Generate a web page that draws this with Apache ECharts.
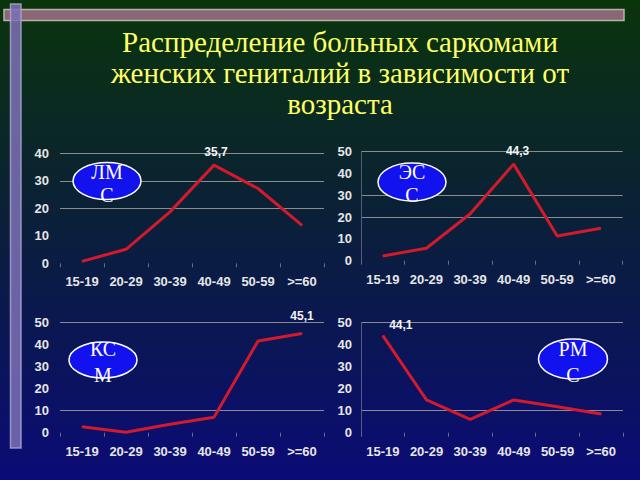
<!DOCTYPE html>
<html><head><meta charset="utf-8">
<script src="https://cdn.jsdelivr.net/npm/echarts@6/dist/echarts.min.js"></script>
<style>html,body{margin:0;padding:0;background:#0a1f3a}#c{width:640px;height:480px}</style>
</head><body><div id="c"></div>
<script>
const categories = ['15-19','20-29','30-39','40-49','50-59','>=60'];
const lmsValues = [0.7, 5.1, 18.7, 35.7, 27.2, 13.8];
const essValues = [2.2, 5.7, 21.4, 44.3, 11.3, 14.9];
const ksmValues = [2.7, 0.2, 3.8, 7.0, 41.7, 45.1];
const rmsValues = [44.1, 14.9, 6.1, 14.9, 11.8, 8.5];
const panelNames = [['ЛМ','С'], ['ЭС','С'], ['КС','М'], ['РМ','С']];
const axisMax = [40, 50, 50, 50];
const labelIndex = [3, 3, 5, 0];
const titleLines = ['Распределение больных саркомами', 'женских гениталий в зависимости от', 'возраста'];

const seriesValues = [lmsValues, essValues, ksmValues, rmsValues];
const grids = [
  {left: 60, top: 153.3, width: 264, height: 110},
  {left: 361, top: 151.7, width: 261.6, height: 109},
  {left: 60, top: 322.7, width: 264, height: 110},
  {left: 361, top: 322.7, width: 262, height: 110}
];
const gridColors = [
  ['transparent','transparent','#8c8c8c','#8c8c8c','#8c8c8c'],
  ['transparent','transparent','#8c8c8c','#8c8c8c','transparent','#8c8c8c'],
  ['transparent','#8c8c8c','transparent','transparent','transparent','#8c8c8c'],
  ['transparent','#8c8c8c','transparent','transparent','transparent','#8c8c8c']
];
const labelOffsets = [[2,0],[4,0],[0,-4],[18,3]];
const ellipses = [
  {cx:107, cy:181, rx:34, ry:18.5, ty1:172, ty2:195},
  {cx:412, cy:182, rx:34, ry:19, ty1:172, ty2:195},
  {cx:103, cy:360, rx:34, ry:18, ty1:349, ty2:375},
  {cx:573, cy:359, rx:34.5, ry:20, ty1:349, ty2:375}
];

const axisFont = {color:'#e6e6e6', fontFamily:'Liberation Sans, Arial', fontWeight:'bold', fontSize:13};

const xAxis = [], yAxis = [], series = [];
for (let i = 0; i < 4; i++) {
  const right = i % 2 === 1;
  xAxis.push({
    type:'category', gridIndex:i, data:categories, boundaryGap:true,
    axisLine:{show:false},
    axisTick:{show:true, length:4, lineStyle:{color:'#6a6a80'}},
    axisLabel:Object.assign({margin:12, interval:0}, axisFont),
    splitLine:{show:false}
  });
  yAxis.push({
    type:'value', gridIndex:i, min:0, max:axisMax[i], interval:10,
    axisLine:{show:right, lineStyle:{color:'#5a5a78', width:1}},
    axisTick:{show:false},
    axisLabel:Object.assign({margin:right ? 9 : 11}, axisFont),
    splitLine:{show:true, lineStyle:{color:gridColors[i], width:1}}
  });
  const vals = seriesValues[i];
  series.push({
    type:'line', xAxisIndex:i, yAxisIndex:i,
    data: vals.map((v, k) => k === labelIndex[i] ? {
      value: v,
      label: {show:true, position:'top', distance:7, offset:labelOffsets[i],
        formatter: p => String(p.value).replace('.', ','),
        color:'#f4f4f4', fontFamily:'Liberation Sans, Arial', fontWeight:'bold', fontSize:12}
    } : v),
    symbol:'circle', symbolSize:1, showSymbol:true,
    itemStyle:{color:'#d21a2c'},
    lineStyle:{color:'#d21a2c', width:3},
    animation:false, silent:true
  });
}

const graphic = [];
graphic.push({type:'rect', shape:{x:4, y:9.5, width:620, height:11}, style:{fill:'#8a6676', stroke:'#b4b4a4', lineWidth:1.5}, z:10});
graphic.push({type:'rect', shape:{x:10.5, y:4, width:10.5, height:444}, style:{fill:'#7c70b6', stroke:'#aaa2d0', lineWidth:1.5, opacity:0.85}, z:11});
titleLines.forEach((t, k) => {
  graphic.push({type:'text', x:340, y:42 + k*31, z:12,
    style:{text:t, fill:'#ffff66', font:'29px "Liberation Serif", "Times New Roman", serif', textAlign:'center', textVerticalAlign:'middle'}});
});
ellipses.forEach((e, k) => {
  graphic.push({type:'ellipse', shape:{cx:e.cx, cy:e.cy, rx:e.rx, ry:e.ry}, style:{fill:'#1212ee', stroke:'#ffffff', lineWidth:1.5}, z:12});
  graphic.push({type:'text', x:e.cx, y:e.ty1, z:13, style:{text:panelNames[k][0], fill:'#ffffff', font:'20px "Liberation Serif", serif', textAlign:'center', textVerticalAlign:'middle'}});
  graphic.push({type:'text', x:e.cx, y:e.ty2, z:13, style:{text:panelNames[k][1], fill:'#ffffff', font:'20px "Liberation Serif", serif', textAlign:'center', textVerticalAlign:'middle'}});
});

const chart = echarts.init(document.getElementById('c'), null, {renderer:'svg'});
chart.setOption({
  animation:false,
  backgroundColor:{type:'linear', x:0, y:0, x2:0, y2:1, colorStops:[
    {offset:0, color:'#0a340b'}, {offset:0.45, color:'#0a2038'}, {offset:1, color:'#0b0b76'}]},
  grid: grids,
  xAxis: xAxis,
  yAxis: yAxis,
  series: series,
  graphic: graphic
});
</script></body></html>
